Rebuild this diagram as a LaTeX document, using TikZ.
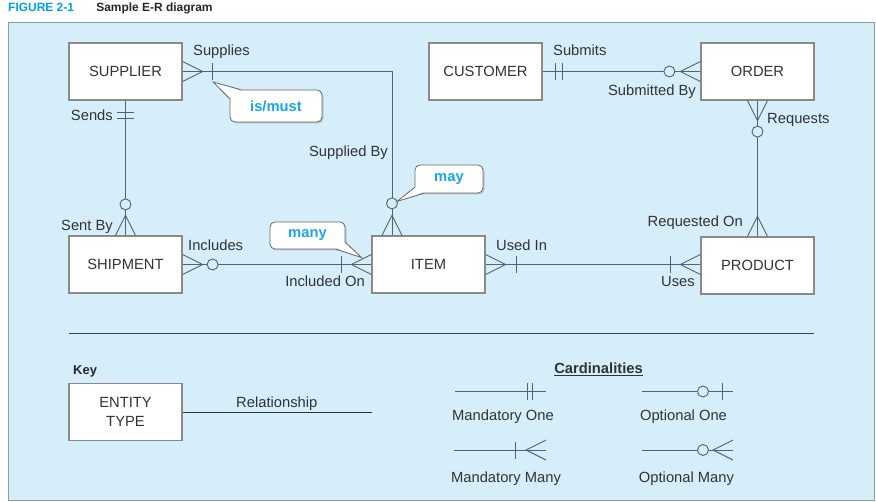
\documentclass[tikz,border=0pt]{standalone}
\usepackage{fontspec}
\setmainfont{Liberation Sans}
\usepackage{tikz}
\usetikzlibrary{positioning, calc, shadows}
\definecolor{panelblue}{HTML}{D5EEFA}
\definecolor{panelgray}{HTML}{8C9BA3}
\definecolor{figblue}{HTML}{00A0E3}
\definecolor{noteblue}{HTML}{1AA6E6}
\definecolor{linegray}{HTML}{56636A}
\definecolor{boxgray}{HTML}{8A8A8A}
\definecolor{textgray}{HTML}{333333}
\newcommand{\erfont}{\fontsize{14.8}{19}\selectfont}
\newcommand{\titlefont}{\fontsize{12}{14}\selectfont\bfseries}

\begin{document}
\begin{tikzpicture}[x=1bp, y=-1bp,
    entity/.style={draw=boxgray, line width=1.2bp, fill=white, minimum width=113bp, minimum height=57bp, inner sep=0pt, font=\erfont, text=textgray, align=center},
    rel/.style={draw=linegray, line width=0.9bp},
    lbl/.style={font=\erfont, text=textgray, inner sep=0pt},
    note/.style={draw=black!60, fill=white, line width=0.8bp, rounded corners=5bp, inner sep=0pt, font=\erfont\bfseries, text=noteblue, drop shadow={shadow xshift=1.5bp, shadow yshift=-1.5bp, opacity=0.35}},
    notetail/.style={draw=black!60, line width=0.8bp},
    pics/crow/.style={code={\draw[rel] (0,-10) -- (20,0) -- (0,10);}},
    pics/bar/.style={code={\draw[rel] (0,-8.5) -- (0,8.5);}},
    pics/ring/.style={code={\draw[rel, fill=panelblue] (0,0) circle (5.5bp);}}
]
    \useasboundingbox (0,0) rectangle (876,502);
    % Title and panel
    \node[anchor=base west, inner sep=0pt, font=\titlefont, text=figblue] (figno) at (8,12) {FIGURE 2-1};
    \node[base right=22bp of figno, inner sep=0pt, font=\titlefont, text=black!85] (figname) {Sample E-R diagram};
    \draw[draw=panelgray, fill=panelblue, line width=1.5bp] (8.5,22.5) rectangle (874.5,500.5);
    % Entity types
    \node[entity] (sup) at (125.5,71.5) {SUPPLIER};
    \node[entity] (cust) at (485.5,71.5) {CUSTOMER};
    \node[entity] (ord) at (757.5,71.5) {ORDER};
    \node[entity] (ship) at (125.5,264.5) {SHIPMENT};
    \node[entity] (item) at (428.5,264.5) {ITEM};
    \node[entity] (prod) at (757.5,265.5) {PRODUCT};
    \coordinate (itop) at ($(item.north)+(-36.5,0)$);
    \coordinate (pwest) at (item.east -| prod.west);
    % Relationships
    \draw[rel] (sup.east) -| (itop);
    \draw[rel] (sup.south) -- (ship.north);
    \draw[rel] (ship.east) -- (item.west);
    \draw[rel] (item.east) -- (pwest);
    \draw[rel] (cust.east) -- (ord.west);
    \draw[rel] (ord.south) -- (prod.north);
    % Cardinality marks
    \path (sup.east) pic {crow} ($(sup.east)+(30,0)$) pic {bar};
    \path (itop) pic[rotate=90] {crow} ($(itop)+(0,-32)$) pic {ring};
    \path ($(sup.south)+(0,12)$) pic[rotate=90] {bar} ($(sup.south)+(0,18)$) pic[rotate=90] {bar};
    \path (ship.north) pic[rotate=90] {crow} ($(ship.north)+(0,-31)$) pic {ring};
    \path (ship.east) pic {crow} ($(ship.east)+(30,0)$) pic {ring};
    \path (item.west) pic[rotate=180] {crow} ($(item.west)+(-30,0)$) pic {bar};
    \path (item.east) pic {crow} ($(item.east)+(31,0)$) pic {bar};
    \path (pwest) pic[rotate=180] {crow} ($(pwest)+(-30,0)$) pic {bar};
    \path ($(cust.east)+(13,0)$) pic {bar} ($(cust.east)+(20,0)$) pic {bar};
    \path (ord.west) pic[rotate=180] {crow} ($(ord.west)+(-31,0)$) pic {ring};
    \path (ord.south) pic[rotate=-90] {crow} ($(ord.south)+(0,31)$) pic {ring};
    \path (prod.north) pic[rotate=90] {crow} ($(prod.north)+(0,-30)$) pic {bar};
    % Relationship names
    \node[lbl, anchor=base west] (supplies) at (193,55.5) {Supplies};
    \node[lbl, anchor=base east] (suppliedby) at (388,157) {Supplied By};
    \node[lbl, anchor=base east] (sends) at (113,120.5) {Sends};
    \node[lbl, anchor=base east] (sentby) at (113,230.5) {Sent By};
    \node[lbl, anchor=base west] (includes) at (188,250.5) {Includes};
    \node[lbl, anchor=base east] (includedon) at (365,287) {Included On};
    \node[lbl, anchor=base west] (usedin) at (496,250.5) {Used In};
    \node[lbl, anchor=base east] (uses) at (695,287) {Uses};
    \node[lbl, anchor=base west] (submits) at (553,55.5) {Submits};
    \node[lbl, anchor=base east] (submittedby) at (696,95.5) {Submitted By};
    \node[lbl, anchor=base west] (requests) at (767,124) {Requests};
    \node[lbl, anchor=base east] (requestedon) at (743,227) {Requested On};
    % Callouts
    \node[note, minimum width=92bp, minimum height=32bp] (mustnote) at (276,106) {is/must};
    \coordinate (musttip) at ($(sup.east)+(30.5,10.5)$);
    \fill[white] (musttip) -- ($(mustnote.north west)+(1.2,9)$) -- ($(mustnote.north west)+(3,3)$) -- ($(mustnote.north west)+(11,1.2)$) -- cycle;
    \draw[notetail] ($(mustnote.north west)+(0,9)$) -- (musttip) -- ($(mustnote.north west)+(11,0)$);
    \node[note, minimum width=68bp, minimum height=28bp] (maynote) at (449,179) {may};
    \coordinate (maytip) at ($(itop)+(5,-34)$);
    \fill[white] (maytip) -- ($(maynote.south west)+(1.2,-6)$) -- ($(maynote.south west)+(3,-3)$) -- ($(maynote.south west)+(9,-1.2)$) -- cycle;
    \draw[notetail] ($(maynote.south west)+(0,-6)$) -- (maytip) -- ($(maynote.south west)+(9,0)$);
    \node[note, minimum width=75bp, minimum height=27bp] (manynote) at (307.5,235.5) {many};
    \coordinate (manytip) at ($(item.west)+(-10,-7)$);
    \fill[white] (manytip) -- ($(manynote.south east)+(-1.2,-7)$) -- ($(manynote.south east)+(-3,-3)$) -- ($(manynote.south east)+(-9,-1.2)$) -- cycle;
    \draw[notetail] ($(manynote.south east)+(0,-7)$) -- (manytip) -- ($(manynote.south east)+(-9,0)$);
    % Key
    \draw[line width=0.9bp, black!75] (69,333) -- (814,333);
    \node[lbl, anchor=base west, font=\fontsize{13}{15}\selectfont\bfseries, text=black!85] (keylbl) at (73,374.5) {Key};
    \node[entity] (keybox) at (125.5,412) {ENTITY\\TYPE};
    \coordinate (relend) at (372,412);
    \draw[rel, draw=black!80] (keybox.east) -- (relend);
    \node[lbl, anchor=base west] (rellbl) at (236,407.5) {Relationship};
    % Cardinalities
    \node[lbl, anchor=base, font=\erfont\bfseries] (cardlbl) at (598.5,373.5) {\underline{Cardinalities}};
    \coordinate (mo1) at (455,391.5);
    \coordinate (mo2) at (546,391.5);
    \draw[rel] (mo1) -- (mo2);
    \path ($(mo2)+(-19,0)$) pic {bar} ($(mo2)+(-14,0)$) pic {bar};
    \node[lbl, anchor=base] (molbl) at (503,420.5) {Mandatory One};
    \coordinate (oo1) at (642,391.5);
    \coordinate (oo2) at (733,391.5);
    \draw[rel] (oo1) -- (oo2);
    \path ($(oo2)+(-30,0)$) pic {ring} ($(oo2)+(-11,0)$) pic {bar};
    \node[lbl, anchor=base] (oolbl) at (683.5,420.5) {Optional One};
    \coordinate (mm1) at (454,450);
    \coordinate (mm2) at (546,450);
    \draw[rel] (mm1) -- (mm2);
    \path ($(mm2)+(-31,0)$) pic {bar} (mm2) pic[rotate=180] {crow};
    \node[lbl, anchor=base] (mmlbl) at (506,482.5) {Mandatory Many};
    \coordinate (om1) at (642,450);
    \coordinate (om2) at (733,450);
    \draw[rel] (om1) -- (om2);
    \path ($(om2)+(-30,0)$) pic {ring} (om2) pic[rotate=180] {crow};
    \node[lbl, anchor=base] (omlbl) at (686.5,482.5) {Optional Many};
\end{tikzpicture}
\end{document}
